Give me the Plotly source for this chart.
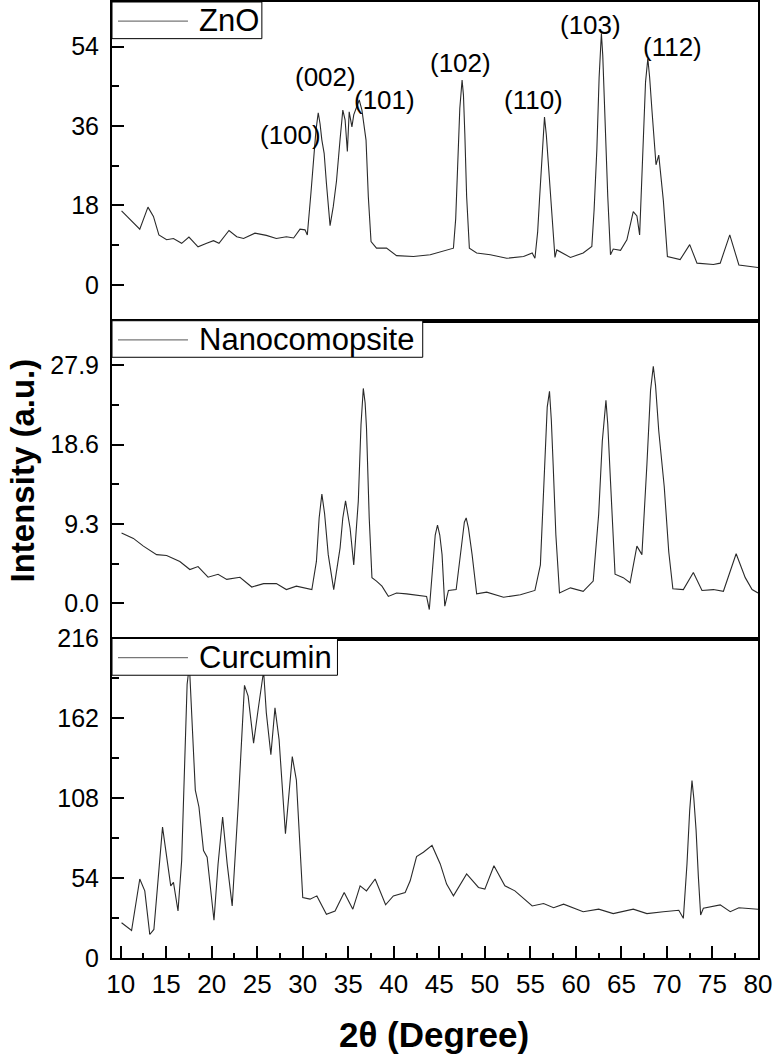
import plotly.graph_objects as go
from plotly.subplots import make_subplots

# XRD patterns (2theta in degrees, intensity in a.u.)
zno_x = [10.1, 12.1, 13.0, 13.6, 14.2, 15.05, 15.8, 16.7, 17.5, 18.5,
         19.45, 20.2, 20.8, 21.9, 22.75, 23.5, 24.75, 26.0, 27.1, 28.2,
         29.0, 29.7, 30.25, 30.5, 30.9, 31.2, 31.45, 31.7, 31.9, 32.1,
         32.35, 32.6, 33.0, 33.35, 33.7, 34.1, 34.4, 34.65, 34.9, 35.1,
         35.4, 35.6, 35.9, 36.2, 36.5, 36.7, 36.95, 37.2, 37.5, 38.1,
         39.2, 40.3, 42.15, 44.0, 45.8, 46.55, 46.8, 47.0, 47.25, 47.5,
         47.65, 47.8, 48.0, 48.3, 49.1, 50.6, 52.4, 54.25, 55.2, 55.5,
         55.8, 56.0, 56.3, 56.55, 56.75, 57.0, 57.35, 57.7, 57.9, 59.4,
         60.8, 61.75, 62.0, 62.3, 62.55, 62.8, 62.95, 63.2, 63.5, 63.8,
         64.1, 64.9, 65.6, 66.3, 66.7, 67.0, 67.2, 67.4, 67.65, 67.9,
         68.1, 68.35, 68.8, 69.1, 69.6, 70.05, 71.45, 72.5, 73.3, 75.1,
         75.85, 76.9, 77.9, 80.0]
zno_y = [16.75, 12.6, 17.6, 15.5, 11.3, 10.2, 10.5, 9.4, 10.8, 8.6,
         9.4, 10.0, 9.4, 12.3, 10.9, 10.5, 11.7, 11.2, 10.5, 10.9,
         10.6, 12.6, 12.45, 11.3, 20.8, 28.3, 35.0, 39.0, 36.5, 32.8,
         29.8, 23.0, 13.4, 17.7, 23.4, 33.0, 39.6, 37.4, 30.2, 39.2,
         35.8, 38.5, 40.0, 41.9, 39.6, 36.2, 32.8, 20.0, 9.8, 8.3,
         8.3, 6.6, 6.4, 6.8, 7.8, 8.3, 15.0, 26.8, 40.0, 46.4,
         43.0, 34.3, 20.0, 8.3, 7.2, 6.8, 6.0, 6.4, 7.2, 6.0,
         12.0, 19.2, 31.0, 38.0, 34.0, 26.8, 16.2, 6.2, 7.9, 6.2,
         7.2, 8.7, 17.0, 30.6, 47.0, 57.0, 52.0, 35.8, 20.0, 6.8,
         8.1, 7.8, 10.2, 16.6, 15.6, 11.3, 22.0, 34.3, 46.0, 51.3,
         47.0, 39.6, 27.2, 29.4, 19.2, 6.4, 5.7, 9.1, 4.9, 4.6,
         4.9, 11.3, 4.5, 3.9]

nano_x = [10.1, 11.4, 12.5, 13.95, 15.05, 16.5, 17.6, 18.5, 19.6, 20.7,
          21.65, 23.1, 24.4, 25.7, 27.1, 28.2, 29.3, 31.0, 31.5, 31.8,
          32.1, 32.4, 32.8, 33.4, 34.1, 34.4, 34.7, 34.95, 35.2, 35.6,
          36.1, 36.4, 36.65, 36.85, 37.0, 37.3, 37.6, 38.1, 38.7, 39.4,
          40.3, 41.4, 43.6, 43.9, 44.3, 44.55, 44.8, 45.05, 45.3, 45.6,
          46.0, 46.85, 47.5, 47.75, 47.95, 48.2, 48.6, 49.1, 50.2, 52.05,
          53.9, 55.5, 56.1, 56.6, 56.85, 57.1, 57.3, 57.5, 57.8, 58.2,
          59.4, 60.8, 61.9, 62.5, 62.9, 63.3, 63.5, 63.8, 64.3, 65.2,
          65.95, 66.7, 67.25, 67.8, 68.2, 68.5, 68.75, 69.1, 69.7, 70.2,
          70.65, 71.8, 72.9, 73.85, 75.1, 76.2, 77.6, 78.6, 79.35, 80.0]
nano_y = [8.25, 7.6, 6.7, 5.7, 5.6, 4.9, 3.95, 4.3, 3.05, 3.4,
          2.8, 3.05, 1.9, 2.3, 2.3, 1.6, 2.0, 1.6, 4.9, 10.0,
          12.8, 10.5, 5.7, 1.6, 6.5, 10.0, 12.0, 10.5, 8.8, 4.5,
          11.95, 21.0, 25.2, 23.5, 20.6, 10.0, 3.0, 2.6, 2.0, 0.8,
          1.2, 1.1, 0.8, -0.74, 4.9, 8.0, 9.15, 8.0, 5.7, -0.35,
          1.5, 1.6, 7.3, 9.5, 10.0, 8.8, 5.7, 1.1, 1.3, 0.7,
          1.0, 1.5, 4.5, 17.0, 23.0, 24.85, 21.5, 16.3, 8.0, 1.2,
          1.8, 1.4, 2.6, 10.4, 19.0, 23.8, 21.0, 14.3, 3.4, 3.0,
          2.4, 6.7, 5.7, 16.3, 25.0, 27.8, 25.5, 20.2, 13.7, 6.0,
          1.7, 1.6, 3.6, 1.5, 1.6, 1.4, 5.8, 3.0, 1.6, 1.2]

cur_x = [10.1, 11.2, 12.1, 12.65, 13.2, 13.65, 14.6, 15.05, 15.5, 15.8,
         16.3, 16.7, 17.05, 17.3, 17.55, 17.8, 18.2, 18.6, 19.1, 19.5,
         20.25, 20.7, 21.2, 21.7, 22.25, 22.9, 23.6, 24.0, 24.6, 25.1,
         25.7, 26.0, 26.5, 26.95, 27.4, 28.1, 28.85, 29.3, 30.0, 30.8,
         31.55, 32.6, 33.55, 34.55, 35.5, 36.3, 37.0, 37.95, 39.1, 39.95,
         41.25, 41.8, 42.5, 43.25, 44.2, 45.1, 45.8, 46.55, 48.0, 49.3,
         50.0, 51.0, 52.2, 53.3, 55.2, 56.45, 57.55, 58.65, 60.8, 62.5,
         64.1, 66.3, 67.8, 69.6, 71.3, 71.8, 72.2, 72.5, 72.75, 72.95,
         73.2, 73.45, 73.7, 74.0, 75.85, 76.95, 77.9, 80.0]
cur_y = [23.8, 18.6, 53.4, 45.4, 15.9, 19.3, 88.5, 68.1, 48.8, 51.1,
         31.8, 65.8, 145.3, 185.0, 198.0, 165.7, 113.5, 102.1, 72.7, 68.1,
         25.5, 63.6, 95.3, 63.6, 35.2, 102.1, 184.3, 177.0, 145.3, 168.0,
         194.0, 165.7, 137.4, 169.1, 147.6, 84.0, 136.2, 120.3, 40.9, 39.8,
         42.0, 29.6, 31.8, 44.3, 33.0, 48.8, 45.4, 53.4, 36.0, 42.0,
         44.3, 52.2, 68.6, 71.5, 76.1, 63.6, 50.0, 42.0, 56.8, 47.7,
         46.6, 62.4, 48.8, 45.4, 35.2, 36.8, 34.0, 36.4, 31.3, 33.0,
         30.0, 33.0, 30.0, 31.3, 32.3, 26.8, 63.6, 100.0, 119.9, 108.0,
         86.3, 55.0, 29.1, 33.6, 35.9, 31.3, 34.0, 33.0]

# Miller indices of the ZnO reflections and where their labels sit
hkl_text = ["(100)", "(002)", "(101)", "(102)", "(110)", "(103)", "(112)"]
hkl_x = [28.6, 32.45, 39.0, 47.3, 55.35, 61.6, 70.66]
hkl_y = [34.0, 47.2, 41.9, 50.2, 41.9, 58.9, 53.9]

names = ["ZnO", "Nanocomopsite", "Curcumin"]
y_ticks = [[0, 18, 36, 54], [0.0, 9.3, 18.6, 27.9], [0, 54, 108, 162, 216]]
y_ranges = [[-8.15, 64.1], [-4.14, 33.14], [0, 216]]
legend_w = [0.232, 0.481, 0.349]

assert len(zno_x) == len(zno_y) and len(nano_x) == len(nano_y) and len(cur_x) == len(cur_y)

FONT = "Liberation Sans, Arial, sans-serif"
fig = make_subplots(rows=3, cols=1, shared_xaxes=True, vertical_spacing=0)

series = [(zno_x, zno_y), (nano_x, nano_y), (cur_x, cur_y)]
for i, (xs, ys) in enumerate(series):
    fig.add_trace(go.Scatter(x=xs, y=ys, mode="lines", name=names[i], showlegend=False,
                             line=dict(color="#2a2a2a", width=1.1)), row=i + 1, col=1)

domains = [[0.6666, 1.0], [0.3342, 0.6666], [0.0, 0.3342]]
for i in range(3):
    yt = y_ticks[i]
    step = yt[1] - yt[0]
    fig.update_yaxes(row=i + 1, col=1, domain=domains[i], range=y_ranges[i], automargin=False,
                     tickvals=yt, ticktext=[("%.1f" % v) if i == 1 else ("%d" % v) for v in yt],
                     ticks="inside", ticklen=12, tickwidth=2, tickcolor="black",
                     minor=dict(ticks="inside", ticklen=7, tickwidth=2, tickcolor="black",
                                tickvals=[v + step / 2 for v in [yt[0] - step] + yt]),
                     showline=True, linecolor="black", linewidth=2, mirror=True,
                     showgrid=False, zeroline=False, ticklabelstandoff=6,
                     tickfont=dict(family=FONT, size=25, color="black"))
    fig.update_xaxes(row=i + 1, col=1, range=[9.05, 80], showline=True, linecolor="black",
                     linewidth=2, mirror=True, showgrid=False, zeroline=False, automargin=False)

fig.update_xaxes(row=3, col=1, tickvals=list(range(10, 81, 5)), ticks="inside", ticklen=12,
                 tickwidth=2, tickcolor="black", showticklabels=True,
                 minor=dict(ticks="inside", ticklen=5, tickwidth=2, tickcolor="black",
                            tickvals=[12.5 + 5 * k for k in range(14)]),
                 ticklabelstandoff=2,
                 tickfont=dict(family=FONT, size=26, color="black"))

# legend boxes drawn per panel
shapes = []
annotations = []
for i in range(3):
    xr = "x domain" if i == 0 else "x%d domain" % (i + 1)
    yr = "y domain" if i == 0 else "y%d domain" % (i + 1)
    shapes.append(dict(type="rect", xref=xr, yref=yr, x0=0, x1=legend_w[i], y0=0.885, y1=1,
                       line=dict(color="black", width=1), fillcolor="white", layer="above"))
    shapes.append(dict(type="line", xref=xr, yref=yr, x0=0.0093, x1=0.1176, y0=0.94, y1=0.94,
                       line=dict(color="#777777", width=1.2), layer="above"))
    annotations.append(dict(text=names[i], xref=xr, yref=yr, x=0.132, y=0.942, xanchor="left",
                            yanchor="middle", showarrow=False,
                            font=dict(family=FONT, size=31, color="black")))

for t, hx, hy in zip(hkl_text, hkl_x, hkl_y):
    annotations.append(dict(text=t, x=hx, y=hy, xref="x", yref="y", showarrow=False,
                            xanchor="center", yanchor="middle",
                            font=dict(family=FONT, size=26, color="black")))

annotations.append(dict(text="Intensity (a.u.)", xref="paper", yref="paper", x=-0.1393, y=0.51,
                        textangle=-90, showarrow=False, xanchor="center", yanchor="middle",
                        font=dict(family=FONT, size=33, color="black", weight="bold")))
annotations.append(dict(text="2θ (Degree)", xref="paper", yref="paper", x=0.498, y=-0.0795,
                        showarrow=False, xanchor="center", yanchor="middle",
                        font=dict(family=FONT, size=35, color="black", weight="bold")))

fig.update_layout(width=774, height=1057, margin=dict(l=112, r=16, t=2, b=99, autoexpand=False),
                  plot_bgcolor="white", paper_bgcolor="white",
                  shapes=shapes, annotations=annotations, showlegend=False)

fig.write_html("out.html", config={"displayModeBar": False},
               post_script="document.body.style.margin='0';")
